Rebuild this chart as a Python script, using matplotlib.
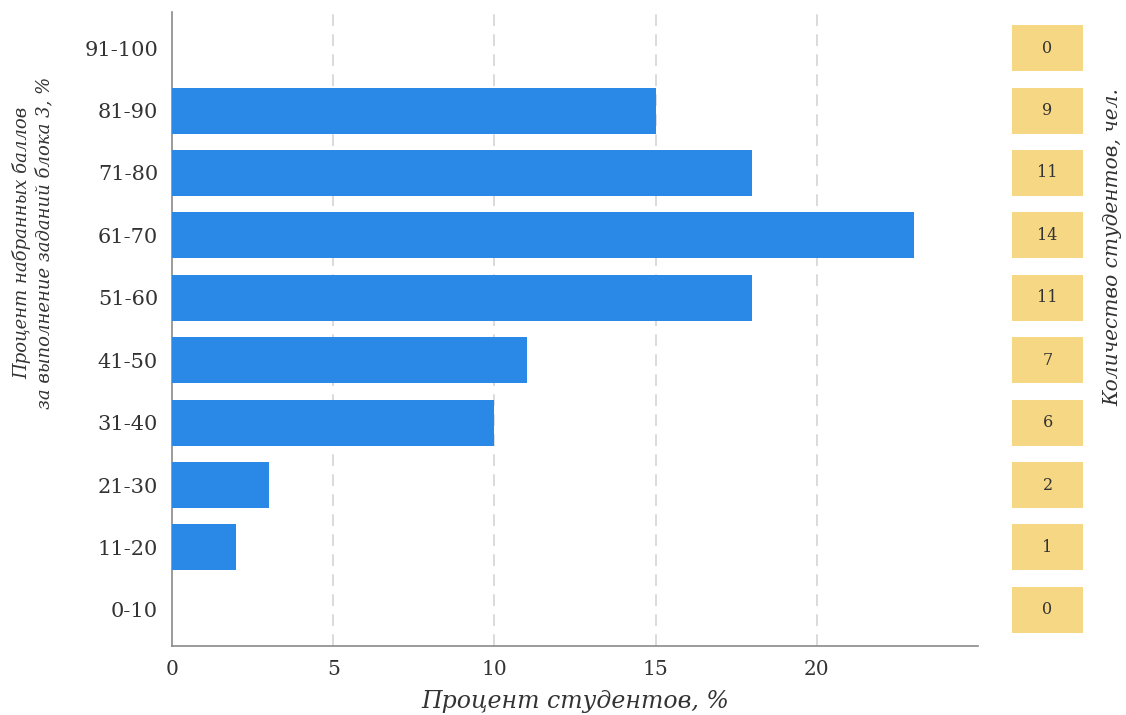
import matplotlib
matplotlib.use("Agg")
import matplotlib.pyplot as plt
import numpy as np

# данные с картинки
groups = ['0-10', '11-20', '21-30', '31-40', '41-50', '51-60', '61-70', '71-80', '81-90', '91-100']
percent = [0, 2, 3, 10, 11, 18, 23, 18, 15, 0]
counts = [0, 1, 2, 6, 7, 11, 14, 11, 9, 0]
xticks = [0, 5, 10, 15, 20]

bar_color = '#2a89e6'
box_color = '#f6d784'
serif = ['DejaVu Serif']

fig = plt.figure(figsize=(11.26, 7.15), dpi=100)
ax = fig.add_axes([172 / 1126, 1 - 646 / 715, (978 - 172) / 1126, (646 - 12) / 715])

y = np.arange(len(groups))
ax.barh(y, percent, height=0.74, color=bar_color, zorder=3)

ax.set_xlim(0, 25)
ax.set_ylim(-0.58, 9.58)
ax.set_xticks(xticks)
ax.set_xticklabels([str(t) for t in xticks], family=serif, fontsize=14.5, color='#333333')
ax.set_yticks(y)
ax.set_yticklabels(groups, family=serif, fontsize=15, color='#333333')
ax.tick_params(length=0, pad=10)

for t in xticks[1:]:
    ax.axvline(t, color='#d4d4d4', lw=1.2, ls=(0, (7, 5)), zorder=1)

for s in ['top', 'right']:
    ax.spines[s].set_visible(False)
for s in ['left', 'bottom']:
    ax.spines[s].set_color('#8a8a8a')
    ax.spines[s].set_linewidth(1.2)

ax.set_xlabel('Процент студентов, %', family=serif, style='italic', fontsize=17, color='#333333', labelpad=8)

fig.text(33 / 1126, 1 - 243 / 715, 'Процент набранных баллов\nза выполнение заданий блока 3, %',
         rotation=90, ha='center', va='center', family=serif, style='italic', fontsize=13,
         color='#333333', linespacing=1.25)

# колонка с количеством студентов
bx = fig.add_axes([1012 / 1126, 1 - 646 / 715, (1083 - 1012) / 1126, (646 - 12) / 715])
bx.barh(y, [1] * len(groups), height=0.74, color=box_color)
for yi, c in zip(y, counts):
    bx.text(0.5, yi, str(c), ha='center', va='center', family=serif, fontsize=11.5, color='#333333')
bx.set_xlim(0, 1)
bx.set_ylim(-0.58, 9.58)
bx.axis('off')

fig.text(1113 / 1126, 1 - 247 / 715, 'Количество студентов, чел.', rotation=90,
         ha='center', va='center', family=serif, style='italic', fontsize=14.5, color='#333333')

fig.savefig('out.png', dpi=100)
